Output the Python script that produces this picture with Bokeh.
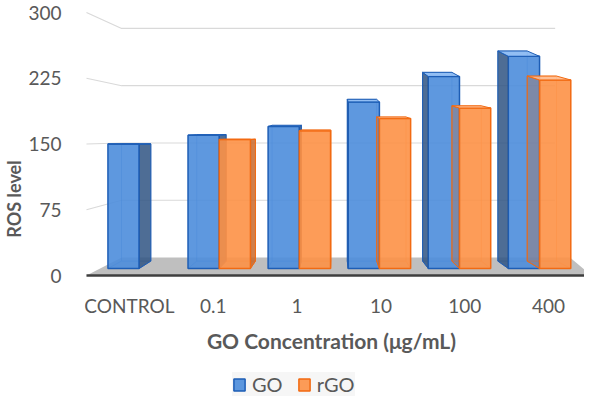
from bokeh.plotting import figure
from bokeh.models import Range1d, FixedTicker, Legend, LegendItem
from bokeh.core.properties import value
from bokeh.embed import file_html
from bokeh.resources import INLINE

# ---- data ----
categories = ["CONTROL", "0.1", "1", "10", "100", "400"]
go_values = [150, 160, 170, 198, 227, 250]
rgo_values = [None, 155, 165, 179, 191, 223]
y_ticks = [0, 75, 150, 225, 300]
series_names = ["GO", "rGO"]
x_title = "GO Concentration (μg/mL)"
y_title = "ROS level"

# ---- geometry / style ----
FONT = "Lato"
TXT = "#595959"
FRAME_LEFT = 72
FIG_W, FIG_H = 584, 397
ZERO_PX = 275        # canvas row of value 0
S = 263.0 / 300      # px per y unit
PX = 82.0            # px per x unit (group spacing)
ORIGIN_PX = 96       # canvas column of x = 0
X0 = (FRAME_LEFT - ORIGIN_PX) / PX
X1 = X0 + (FIG_W - FRAME_LEFT) / PX
Y1 = ZERO_PX / S
Y0 = -(FIG_H - ZERO_PX) / S
WALL_FRONT_X = -0.268
W = 0.39             # bar width
BASE = 8.0           # bar front bottom (on floor)
K = 0.06             # depth factor of the bars
VX, VY = 2.82, 148.3 # vanishing point
FLOOR_BACK = 20.5
DEPTH_RATIO = 0.871
WALL_BACK_X = 0.171
WALL_END_X = 5.585

p = figure(width=FIG_W, height=FIG_H, output_backend="svg", toolbar_location=None,
           x_range=Range1d(X0, X1), y_range=Range1d(Y0, Y1),
           min_border_left=FRAME_LEFT, min_border_right=0, min_border_top=0,
           min_border_bottom=0)
p.outline_line_color = None
p.xgrid.visible = False
p.ygrid.visible = False
p.xaxis.visible = False
p.background_fill_color = "white"

# wall gridlines
gx, gy = [], []
for v in y_ticks[1:]:
    yb = FLOOR_BACK + DEPTH_RATIO * v
    gx.append([WALL_FRONT_X, WALL_BACK_X, WALL_END_X])
    gy.append([v, yb, yb])
p.multi_line(gx, gy, line_color="#d9d9d9", line_width=1.2)

# floor
p.patch([WALL_FRONT_X, WALL_BACK_X, 5.77, 6.04], [0, FLOOR_BACK, FLOOR_BACK, 0],
        fill_color="#bfbfbf", line_color=None)
p.line([WALL_FRONT_X, X1], [0, 0], line_color="#3f3f3f", line_width=2.5)


def bx(x):
    return x + K * (VX - x)


def by(y):
    return y + K * abs(y - VY)


styles = [
    dict(front="#4d8ddb", side="#2f5482", top="#86b7f2", edge="#1d5db5", hidden_side_alpha=0.85),
    dict(front="#fd9146", side="#c8682c", top="#ffb98a", edge="#f26a12", hidden_side_alpha=0.3),
]

front_renderers = []
for s, vals in enumerate([go_values, rgo_values]):
    st = styles[s]
    L, R, B, T = [], [], [], []
    sxs, sys_, salpha, txs, tys, hx, hy = [], [], [], [], [], [], []
    for i, v in enumerate(vals):
        if v is None:
            continue
        left = i + s * W
        right = left + W
        L.append(left); R.append(right); B.append(BASE); T.append(v)
        bl, br, bb, bt = bx(left), bx(right), by(BASE), by(v)
        hx.append([bl, br, br, bl, bl]); hy.append([bb, bb, bt, bt, bb])
        hx.append([left, bl]); hy.append([BASE, bb])
        hx.append([right, br]); hy.append([BASE, bb])
        xe = None
        if VX > right:
            xe = right
            salpha.append(0.85)
        elif VX < left:
            xe = left
            salpha.append(st["hidden_side_alpha"])
        if xe is not None:
            sxs.append([xe, xe, bx(xe), bx(xe)])
            sys_.append([BASE, v, by(v), by(BASE)])
        txs.append([left, right, br, bl])
        tys.append([v, v, bt, bt])
    p.multi_line(hx, hy, line_color=st["edge"], line_alpha=0.45, line_width=1)
    fr = p.quad(left=L, right=R, bottom=B, top=T, fill_color=st["front"], fill_alpha=0.9,
                line_color=st["edge"], line_width=1.5)
    front_renderers.append(fr)
    p.patches(sxs, sys_, fill_color=st["side"], fill_alpha=salpha, line_color=st["edge"], line_width=1)
    p.patches(txs, tys, fill_color=st["top"], fill_alpha=0.9, line_color=st["edge"], line_width=1)

# y axis
p.yaxis.ticker = FixedTicker(ticks=y_ticks)
p.yaxis.axis_line_color = None
p.yaxis.major_tick_line_color = None
p.yaxis.minor_tick_line_color = None
p.yaxis.major_label_standoff = 17
p.yaxis.major_label_text_font = FONT
p.yaxis.major_label_text_font_size = "19px"
p.yaxis.major_label_text_color = TXT
p.yaxis.axis_label = y_title
p.yaxis.axis_label_standoff = 0
p.yaxis.axis_label_text_font = FONT
p.yaxis.axis_label_text_font_size = "18px"
p.yaxis.axis_label_text_font_style = "bold"
p.yaxis.axis_label_text_color = TXT

# category labels (label row is spread by the perspective)
label_pos = [0.268 + i * 1.047 for i in range(len(categories))]
label_y = -(305 - ZERO_PX) / S
p.text(x=label_pos, y=[label_y] * len(categories), text=categories,
       text_align="center", text_baseline="middle", text_font=value(FONT),
       text_font_size="19px", text_color=TXT)

# x axis title
p.text(x=[2.79], y=[-(340 - ZERO_PX) / S], text=[x_title],
       text_align="center", text_baseline="middle", text_font=value(FONT),
       text_font_size="21px", text_font_style="bold", text_color=TXT)

legend = Legend(items=[LegendItem(label=series_names[0], renderers=[front_renderers[0]]),
                       LegendItem(label=series_names[1], renderers=[front_renderers[1]])],
                location=(148, 1), orientation="horizontal")
legend.background_fill_color = "#f6f6f6"
legend.border_line_color = None
legend.label_text_font = FONT
legend.label_text_font_size = "20px"
legend.label_text_color = TXT
legend.glyph_width = 14
legend.glyph_height = 15
legend.label_standoff = 6
legend.spacing = 14
legend.padding = 7
legend.margin = 0
p.add_layout(legend)

open("out.html", "w").write(file_html(p, INLINE))
